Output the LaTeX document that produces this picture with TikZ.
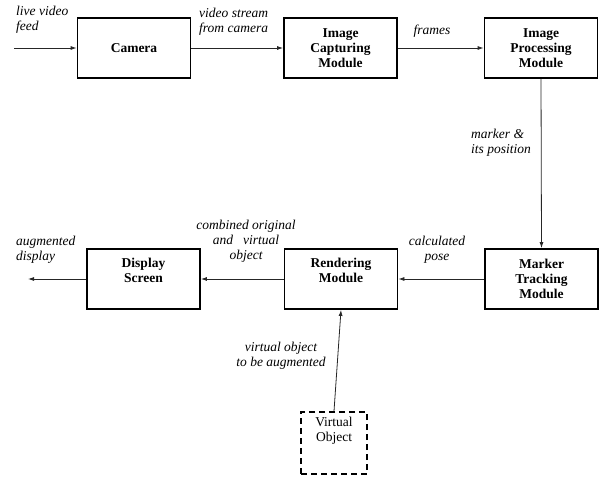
\documentclass[tikz,border=0pt]{standalone}
\usepackage{fontspec}
\setmainfont{Liberation Serif}
\usetikzlibrary{positioning,arrows.meta}

\begin{document}
\begin{tikzpicture}[
    x=1pt, y=-1pt,
    every node/.style={font=\rmfamily\fontsize{13.5}{15}\selectfont},
    block/.style={draw, line width=1.8pt, minimum width=113pt, minimum height=60pt, align=center, font=\rmfamily\fontsize{13.5}{15}\selectfont\bfseries},
    dashblock/.style={draw, dashed, dash pattern=on 6pt off 4pt, line width=1.8pt, minimum width=66pt, minimum height=62pt, align=center},
    lbl/.style={font=\rmfamily\fontsize{13.5}{15}\selectfont\itshape, inner sep=0pt},
    flow/.style={-{Latex[length=6pt,width=4pt]}, line width=0.8pt, draw=black!85}
]
    \useasboundingbox (0,0) rectangle (599,477);

    % upper row
    \node [block] (camera) at (134,48) {Camera};
    \node [block] (capture) at (340.5,48) {Image\\Capturing\\Module};
    \node [block] (process) at (541,48) {Image\\Processing\\Module};

    % lower row
    \node [block] (display) at (143.5,279) {Display\\Screen\\[3pt]};
    \node [block] (render) at (341,279) {Rendering\\Module\\[3pt]};
    \node [block] (tracking) at (541.5,279) {Marker\\Tracking\\Module};
    \node [dashblock] (virtual) at (334,443) {Virtual\\Object\\[12pt]};

    \coordinate (feed) at (14,48);
    \coordinate (out) at (28,279);

    % connectors
    \draw [flow] (feed) -- (camera.west);
    \draw [flow] (camera) -- (capture);
    \draw [flow] (capture) -- (process);
    \draw [flow] (process.south) -- (tracking.north);
    \draw [flow] (tracking) -- (render);
    \draw [flow] (render) -- (display);
    \draw [flow] (display.west) -- (out);
    \draw [flow] (virtual.north) -- (render.south);

    % labels
    \node [lbl, anchor=west, align=left] (lfeed) at (16,20) {live video\\feed};
    \node [lbl, anchor=west, align=left] (lstream) at (199,22) {video stream\\from camera};
    \node [lbl] (lframes) at (432,31) {frames};
    \node [lbl, anchor=west, align=left] (lmarker) at (471,143) {marker \&\\its position};
    \node [lbl, align=center] (lpose) at (437,250) {calculated\\pose};
    \node [lbl, align=center] (lcombined) at (246,241) {combined original\\and~~~virtual\\object};
    \node [lbl, anchor=west, align=left] (lout) at (16,250) {augmented\\display};
    \node [lbl, align=center] (lvirtual) at (281,356) {virtual object\\to be augmented};
\end{tikzpicture}
\end{document}
